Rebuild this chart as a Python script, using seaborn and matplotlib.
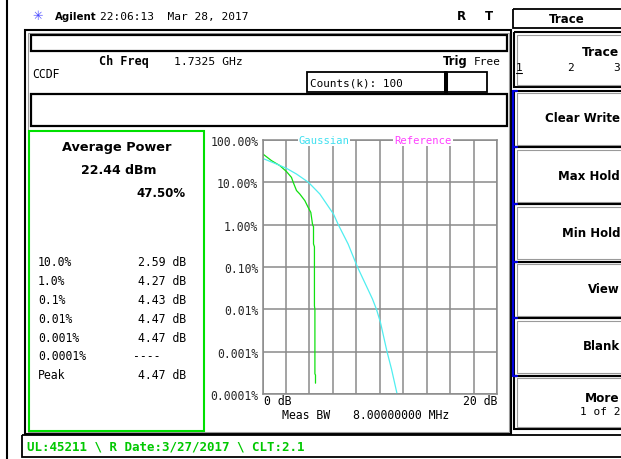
import numpy as np
import pandas as pd
import matplotlib
matplotlib.use("Agg")
import matplotlib.pyplot as plt
from matplotlib.patches import Rectangle
from matplotlib.ticker import NullLocator
import seaborn as sns

# ---------------- data ----------------
gauss_db = [0, 1.19, 2.05, 2.90, 3.92, 4.89, 6.05, 6.48, 7.30, 8.07, 9.38, 9.72, 10.06, 10.62, 11.0, 11.48]
gauss_pct = [36.9, 27.1, 21.4, 15.7, 10.0, 5.3, 1.79, 0.98, 0.35, 0.104, 0.0175, 0.01, 0.0049, 0.001, 0.00039, 0.0001]
meas_db = [0, 0.77, 1.48, 2.05, 2.47, 2.62, 2.90, 3.18, 3.61, 3.89, 4.12, 4.27, 4.35, 4.35, 4.43, 4.43, 4.47, 4.47, 4.52, 4.52]
meas_pct = [47.5, 32.5, 24.8, 17.9, 13.1, 10.0, 6.4, 5.3, 3.7, 2.57, 1.95, 1.0, 0.9, 0.35, 0.3, 0.012, 0.01, 0.0003, 0.00028, 0.00018]
ytick_vals = [100, 10, 1, 0.1, 0.01, 0.001, 0.0001]
ytick_labels = ["100.00%", "10.00%", "1.00%", "0.10%", "0.01%", "0.001%", "0.0001%"]
stat_labels = ["10.0%", "1.0%", "0.1%", "0.01%", "0.001%", "0.0001%", "Peak"]
stat_values = ["2.59 dB", "4.27 dB", "4.43 dB", "4.47 dB", "4.47 dB", "----", "4.47 dB"]
softkeys = ["Clear Write", "Max Hold", "Min Hold", "View", "Blank"]

sns.set_style("white")
MONO = "DejaVu Sans Mono"
SANS = "DejaVu Sans"
plt.rcParams["font.family"] = [MONO, "DejaVu Sans"]

W, H = 621, 460
fig = plt.figure(figsize=(W / 100, H / 100), dpi=100)
fig.patch.set_facecolor("white")

bg = fig.add_axes([0, 0, 1, 1], zorder=0)
bg.set_xlim(0, W); bg.set_ylim(H, 0); bg.axis("off")
fg = fig.add_axes([0, 0, 1, 1], zorder=5)
fg.set_xlim(0, W); fg.set_ylim(H, 0); fg.axis("off")


def rect(x0, y0, x1, y1, ec="black", lw=1.5, fc=None, ax=bg, z=1):
    ax.add_patch(Rectangle((x0, y0), x1 - x0, y1 - y0, fill=fc is not None,
                           facecolor=fc, edgecolor=ec, linewidth=lw, zorder=z,
                           clip_on=False))


def dbl(x0, y0, x1, y1, ax=bg):
    rect(x0, y0, x1, y1, ec="black", lw=1.5, ax=ax)
    rect(x0 + 2.5, y0 + 2.5, x1 - 2.5, y1 - 2.5, ec="#9a9a9a", lw=0.8, ax=ax)


def txt(x, y, s, size=8.3, weight="normal", ha="left", color="black", family=MONO, ax=bg, **kw):
    ax.text(x, y, s, fontsize=size, fontweight=weight, ha=ha, va="center",
            color=color, family=family, clip_on=False, **kw)


# outer left line
bg.plot([7, 7], [0, H], color="black", lw=1.5)

# header
txt(38, 17, "\u2733", size=9, color="#4a4aff", family=SANS, ha="center")
txt(55, 17, "Agilent", size=7.4, weight="bold", family=SANS)
txt(100, 17, "22:06:13  Mar 28, 2017", size=8.0)
txt(461, 17, "R", size=8.5, weight="bold", family=SANS, ha="center")
txt(489, 17, "T", size=8.5, weight="bold", family=SANS, ha="center")

# Trace header box
rect(513, 10, 640, 29, lw=1.3)
txt(567, 19.5, "Trace", size=8.5, weight="bold", family=SANS, ha="center")

# main display box
dbl(25, 31, 511, 435)
rect(31, 36, 507, 52, lw=1.6)
txt(99, 62, "Ch Freq", size=8.5, weight="bold")
txt(174, 62, "1.7325 GHz", size=8.2)
txt(443, 62, "Trig", size=8.3, weight="bold", family=SANS)
txt(474, 62, "Free", size=8.0)
txt(32, 74, "CCDF", size=8.3)
rect(307, 73, 445, 93, lw=1.3)
rect(445, 73, 487, 93, lw=1.3)
bg.plot([445.5, 445.5], [73, 93], color="black", lw=2.2)
txt(310, 83, "Counts(k): 100", size=7.9)
rect(31, 95, 507, 127, lw=1.6)

# green statistics box
rect(29, 132, 204, 432, ec="#00e000", lw=1.5)
txt(117, 148, "Average Power", size=9.3, weight="bold", family=SANS, ha="center")
txt(119, 171, "22.44 dBm", size=9.0, weight="bold", family=SANS, ha="center")
txt(186, 194, "47.50%", size=8.5, weight="bold", family=SANS, ha="right")
row_y0, row_dy = 263, 18.8
for i, (lab, val) in enumerate(zip(stat_labels, stat_values)):
    y = row_y0 + i * row_dy
    txt(38, y, lab, size=8.3)
    if val.startswith("-"):
        txt(133, y, val, size=8.3)
    else:
        txt(186, y, val, size=8.3, ha="right")

# softkeys
bounds = [91.7, 148.3, 205, 262.7, 319.3, 376.7, 430]
dbl(514, 33, 640, 88)
txt(619, 52, "Trace", size=8.8, weight="bold", family=SANS, ha="right")
txt(516, 68, "1", size=8.0)
bg.plot([516, 522], [74, 74], color="black", lw=0.8)
txt(570, 68, "2", size=8.0, ha="center")
txt(613, 68, "3", size=8.0)
for i in range(len(bounds) - 1):
    dbl(514, bounds[i], 640, bounds[i + 1])
label_y = [119, 176.7, 234, 290, 347]
for lab, y in zip(softkeys, label_y):
    txt(620, y, lab, size=8.5, weight="bold", family=SANS, ha="right")
txt(620, 399, "More", size=8.7, weight="bold", family=SANS, ha="right")
txt(620, 412, "1 of 2", size=8.0, ha="right")
bg.plot([512.5, 512.5], [bounds[0], bounds[5]], color="#0000e0", lw=1.6, zorder=3)
for b in bounds[:6]:
    bg.plot([512.5, 517], [b, b], color="#0000e0", lw=1.6, zorder=3)

# status bar
rect(22, 436, 640, 458, lw=1.3)
txt(27, 447, "UL:45211 \\ R Date:3/27/2017 \\ CLT:2.1", size=9.0, weight="bold", color="#00c800")

# ---------------- CCDF chart ----------------
ax = fig.add_axes([262.5 / W, 1 - 395 / H, (497 - 262.5) / W, (395 - 141) / H], zorder=2)
df = pd.concat([
    pd.DataFrame({"dB": meas_db, "pct": meas_pct, "trace": "Measured"}),
    pd.DataFrame({"dB": gauss_db, "pct": gauss_pct, "trace": "Gaussian"}),
], ignore_index=True)
sns.lineplot(data=df, x="dB", y="pct", hue="trace",
             palette={"Measured": "#10e010", "Gaussian": "#50eef0"},
             estimator=None, sort=False, legend=False, linewidth=0.9, ax=ax)
ax.set_yscale("log")
ax.set_ylim(1e-4, 100)
ax.set_xlim(0, 20)
ax.set_xticks(np.arange(0, 21, 2))
ax.set_xticklabels([])
ax.set_yticks(ytick_vals)
ax.set_yticklabels(ytick_labels, fontsize=8.3, family=MONO)
ax.yaxis.set_minor_locator(NullLocator())
ax.tick_params(length=0, pad=3)
ax.grid(True, color="#8a8a8a", lw=1.1)
ax.set_axisbelow(True)
for sp in ax.spines.values():
    sp.set_color("#8a8a8a"); sp.set_linewidth(1.1)
ax.set_xlabel(""); ax.set_ylabel("")

txt(324, 141, "Gaussian", size=7.6, color="#40e0f0", ha="center", ax=fg,
    bbox=dict(facecolor="white", edgecolor="none", pad=0.6))
txt(423, 141, "Reference", size=7.6, color="#ff40ff", ha="center", ax=fg,
    bbox=dict(facecolor="white", edgecolor="none", pad=0.6))
txt(264, 402, "0 dB", size=8.3, ax=fg)
txt(497, 402, "20 dB", size=8.3, ha="right", ax=fg)
txt(282, 415.5, "Meas BW", size=8.3, ax=fg)
txt(353, 415.5, "8.00000000 MHz", size=8.3, ax=fg)

fig.savefig("out.png", dpi=100)
